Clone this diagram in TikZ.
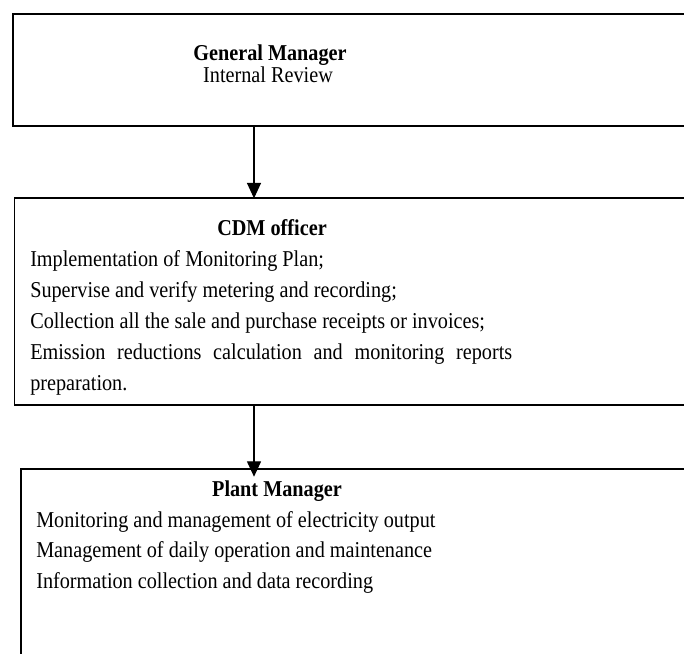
\documentclass[tikz,border=0pt]{standalone}
\usepackage{fontspec}
\setmainfont{Liberation Serif}[FakeStretch=0.892]
\usetikzlibrary{arrows.meta,calc}
\hyphenpenalty=10000
\tikzset{
  box/.style={draw,line width=1.4pt,rectangle,outer sep=0pt,inner sep=0pt,anchor=north west,minimum width=525pt},
  head/.style={font=\fontsize{17}{20}\selectfont\bfseries,anchor=base,inner sep=0pt},
  plain/.style={font=\fontsize{17}{20}\selectfont,anchor=base,inner sep=0pt},
  duty/.style={font=\fontsize{17}{23.25}\selectfont,anchor=base west,inner sep=0pt,text width=361.5pt,align=justify},
  link/.style={line width=0.8pt,-{Triangle[length=11.5pt,width=10.5pt]}}
}
\begin{document}
\begin{tikzpicture}[x=0.75pt,y=0.75pt,yscale=-1,xscale=1]
        \useasboundingbox (0,0) rectangle (684,653);

        %Shape: Rectangle [id:gm]
        \node[box,minimum height=84pt] (gm) at (12.7,14) {};
        %Shape: Rectangle [id:cdm]
        \node[box,minimum height=155pt] (cdm) at (14.5,198.3) {};
        %Shape: Rectangle [id:pm]
        \node[box,minimum height=150pt] (pm) at (20.7,469) {};

        % Text Node
        \node[head] (gmhead) at (270,60) {General Manager};
        % Text Node
        \node[plain] (gmtext) at (268,82) {Internal Review};
        % Text Node
        \node[head] (cdmhead) at (272,235) {CDM officer};
        % Text Node
        \node[duty] (cdmtext) at (30,266) {Implementation of Monitoring Plan;\\
          Supervise and verify metering and recording;\\
          Collection all the sale and purchase receipts or invoices;\\
          Emission reductions calculation and monitoring reports preparation.};
        % Text Node
        \node[head] (pmhead) at (277,496.7) {Plant Manager};
        % Text Node
        \node[duty,font=\fontsize{17}{22.9}\selectfont] (pmtext) at (36,527) {Monitoring and management of electricity output\\
          Management of daily operation and maintenance\\
          Information collection and data recording};

        %Straight Lines with arrow
        \coordinate (arrowx) at (254,0);
        \draw[link] (gm.south west -| arrowx) -- (cdm.north west -| arrowx);
        \draw[link] (cdm.south west -| arrowx) -- ($(pm.north west -| arrowx)+(0,7.7)$);

\end{tikzpicture}
\end{document}
